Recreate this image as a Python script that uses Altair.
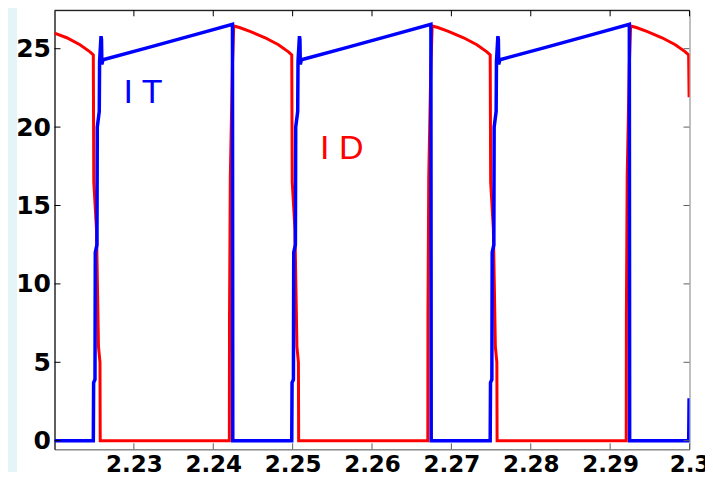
import altair as alt
import pandas as pd

# IT (blue) current waveform
it_t = [
    2.22000, 2.22489, 2.22493, 2.22510, 2.22514, 2.22535, 2.22539, 2.22564, 2.22568, 2.22586, 2.22592, 2.22597, 2.22611, 2.23165, 2.23807, 2.24242, 2.24246,
    2.24989, 2.24993, 2.25010, 2.25014, 2.25035, 2.25039, 2.25064, 2.25068, 2.25086, 2.25092, 2.25097, 2.25111, 2.25665, 2.26307, 2.26742, 2.26746,
    2.27489, 2.27493, 2.27510, 2.27514, 2.27535, 2.27539, 2.27564, 2.27568, 2.27586, 2.27592, 2.27597, 2.27611, 2.28165, 2.28807, 2.29242, 2.29246,
    2.29990, 2.29995]
it_v = [
    0, 0, 3.7, 3.9, 12.0, 12.5, 20.0, 21.0, 24.2, 25.8, 25.6, 24.0, 24.3, 25.05, 25.95, 26.55, 0,
    0, 3.7, 3.9, 12.0, 12.5, 20.0, 21.0, 24.2, 25.8, 25.6, 24.0, 24.3, 25.05, 25.95, 26.55, 0,
    0, 3.7, 3.9, 12.0, 12.5, 20.0, 21.0, 24.2, 25.8, 25.6, 24.0, 24.3, 25.05, 25.95, 26.55, 0,
    0, 2.7]

# ID (red) current waveform
id_t = [
    2.22000, 2.22154, 2.22321, 2.22447, 2.22489, 2.22495, 2.22529, 2.22554, 2.22573, 2.22576,
    2.24203, 2.24205, 2.24215, 2.24242, 2.24254, 2.24258, 2.24330, 2.24462, 2.24654, 2.24821, 2.24947, 2.24989, 2.24995, 2.25029, 2.25054, 2.25073, 2.25076,
    2.26703, 2.26705, 2.26715, 2.26742, 2.26754, 2.26758, 2.26830, 2.26962, 2.27154, 2.27321, 2.27447, 2.27489, 2.27495, 2.27529, 2.27554, 2.27573, 2.27576,
    2.29203, 2.29205, 2.29215, 2.29242, 2.29254, 2.29258, 2.29330, 2.29462, 2.29654, 2.29821, 2.29947, 2.29989, 2.29995]
id_v = [
    26.0, 25.7, 25.25, 24.8, 24.6, 16.5, 13.5, 6.0, 5.0, 0,
    0, 8.0, 16.8, 24.0, 25.8, 26.45, 26.35, 26.1, 25.7, 25.25, 24.8, 24.6, 16.5, 13.5, 6.0, 5.0, 0,
    0, 8.0, 16.8, 24.0, 25.8, 26.45, 26.35, 26.1, 25.7, 25.25, 24.8, 24.6, 16.5, 13.5, 6.0, 5.0, 0,
    0, 8.0, 16.8, 24.0, 25.8, 26.45, 26.35, 26.1, 25.7, 25.25, 24.8, 24.6, 21.9]

x_ticks = [2.23, 2.24, 2.25, 2.26, 2.27, 2.28, 2.29, 2.3]
y_ticks = [0, 5, 10, 15, 20, 25]

label_text = ["I T", "I D"]
label_t = [2.22870, 2.25346]
label_v = [21.53, 17.96]
label_color = ["#0000ff", "#ff0000"]

W, H = 635, 439
xs = alt.Scale(domain=[2.22, 2.3], nice=False, zero=False)
ys = alt.Scale(domain=[-0.55, 27.45], nice=False, zero=False)

it_df = pd.DataFrame({"t": it_t, "v": it_v})
id_df = pd.DataFrame({"t": id_t, "v": id_v})
lab_df = pd.DataFrame({"text": label_text, "t": label_t, "v": label_v, "c": label_color})
xt_df = pd.DataFrame({"t": x_ticks})
yt_df = pd.DataFrame({"v": y_ticks})
one_df = pd.DataFrame({"a": [0]})

x_axis = alt.Axis(values=x_ticks, format="~g", labelFont="DejaVu Sans", labelFontWeight="bold",
                  labelFontSize=23, labelColor="#000000", ticks=False, tickSize=0, grid=False,
                  domain=True, domainColor="#808080", labelPadding=4, title=None,
                  labelOverlap=False, labelFlush=False)
y_axis = alt.Axis(values=y_ticks, labelFont="DejaVu Sans", labelFontWeight="bold",
                  labelFontSize=25, labelColor="#000000", ticks=False, tickSize=0, grid=False,
                  domain=True, domainColor="#000000", labelPadding=4, title=None,
                  labelOverlap=False, labelFlush=False)

strip = alt.Chart(one_df).mark_rect(color="#e3f5f9").encode(
    x=alt.value(-46.5), x2=alt.value(-37.5), y=alt.value(-2.3), y2=alt.value(H + 40))

red = alt.Chart(id_df).mark_line(color="#ff0000", strokeWidth=3, clip=True).encode(
    x=alt.X("t:Q", scale=xs, axis=x_axis),
    y=alt.Y("v:Q", scale=ys, axis=y_axis),
    order="t:Q")

blue = alt.Chart(it_df).mark_line(color="#0000ff", strokeWidth=3.5, clip=True).encode(
    x=alt.X("t:Q", scale=xs),
    y=alt.Y("v:Q", scale=ys),
    order="t:Q")

labels = alt.Chart(lab_df).mark_text(font="Liberation Sans", fontSize=34, align="left",
                                      baseline="alphabetic").encode(
    x=alt.X("t:Q", scale=xs), y=alt.Y("v:Q", scale=ys), text="text:N",
    color=alt.Color("c:N", scale=None))

top_line = alt.Chart(one_df).mark_rule(color="#000000", strokeWidth=1).encode(
    x=alt.value(0), x2=alt.value(W), y=alt.value(0))

ticks_top = alt.Chart(xt_df).mark_rule(color="#000000", strokeWidth=1).encode(
    x=alt.X("t:Q", scale=xs), y=alt.value(0), y2=alt.value(6))
ticks_bottom = alt.Chart(xt_df).mark_rule(color="#606060", strokeWidth=1).encode(
    x=alt.X("t:Q", scale=xs), y=alt.value(H - 6), y2=alt.value(H))
ticks_left = alt.Chart(yt_df).mark_rule(color="#000000", strokeWidth=1).encode(
    y=alt.Y("v:Q", scale=ys), x=alt.value(0), x2=alt.value(6))
ticks_right = alt.Chart(yt_df).mark_rule(color="#606060", strokeWidth=1).encode(
    y=alt.Y("v:Q", scale=ys), x=alt.value(W - 6), x2=alt.value(W))

chart = alt.layer(
    strip, red, blue, labels, top_line, ticks_top, ticks_bottom, ticks_left, ticks_right
).properties(
    width=W, height=H,
    autosize=alt.AutoSizeParams(type="none"),
    padding={"left": 46.5, "top": 2.3, "right": 15.5, "bottom": 22.7},
    background="#ffffff",
).configure_view(stroke="#808080", strokeWidth=1, fill="#ffffff")

chart.save("out.html", embed_options={"renderer": "svg", "actions": False})
